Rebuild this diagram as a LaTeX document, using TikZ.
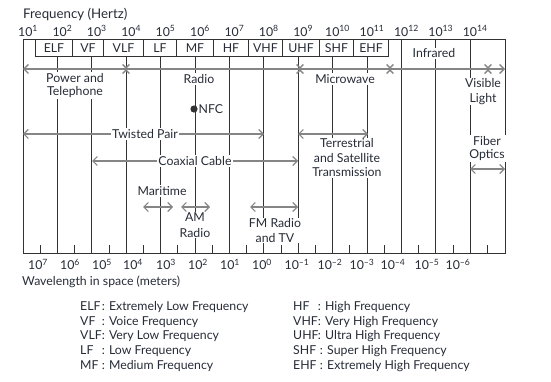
\documentclass[tikz,border=0pt]{standalone}
\usepackage{fontspec}
\usepackage{calc}
\setmainfont{Lato}
\usetikzlibrary{arrows.meta}
\definecolor{txt}{HTML}{262B36}
\definecolor{vline}{HTML}{333333}
\definecolor{arr}{HTML}{858585}
\newcommand{\abl}[1]{\makebox[\widthof{VLF}][l]{#1}}
\newcommand{\abr}[1]{\makebox[\widthof{VHF}][l]{#1}}
\begin{document}
\begin{tikzpicture}[x=1pt,y=-1pt,
  font=\fontsize{12.3}{14.5}\selectfont, text=txt,
  vl/.style={draw=vline, line width=1pt},
  rng/.style={draw=arr, line width=1.1pt, {Straight Barb[length=4.5pt,width=9pt]}-{Straight Barb[length=4.5pt,width=9pt]}},
  band/.style={draw=arr, line width=1.4pt, {Straight Barb[length=4.5pt,width=9pt]}-{Straight Barb[length=4.5pt,width=9pt]}},
  lbl/.style={fill=white, inner sep=1pt, align=center},
  cell/.style={draw=vline, line width=1pt, minimum height=17pt, inner sep=0pt, anchor=west},
  leg/.style={anchor=west, inner sep=0pt},
]
\useasboundingbox (0,0) rectangle (551,382);

% frame
\coordinate (tl) at (23,40);
\coordinate (tr) at (505,40);
\coordinate (bl) at (23,253);
\coordinate (br) at (505,253);
\draw[vl] (tl) -- (tr) -- (br) -- (bl) -- cycle;

% decade lines
\foreach \k in {1,...,10}{
  \coordinate (d\k) at ({23+34.4*\k},57);
  \coordinate (e\k) at ({23+34.4*\k},253);
  \draw[vl] (d\k) -- (e\k);
}
\foreach \k in {11,12,13}{
  \coordinate (d\k) at ({23+34.4*\k},40);
  \coordinate (e\k) at ({23+34.4*\k},253);
  \draw[vl] (d\k) -- (e\k);
}
% bottom ticks
\foreach \k in {0,...,13}{
  \coordinate (t\k) at ({23+34.4*(\k+0.5)},245);
  \coordinate (u\k) at ({23+34.4*(\k+0.5)},253);
  \draw[vl] (t\k) -- (u\k);
}

% band cells
\node[cell, minimum width=37pt] (elf) at (35,48.5) {ELF};
\node[cell, minimum width=31pt] (vf)  at (72,48.5) {VF};
\node[cell, minimum width=40pt] (vlf) at (103,48.5) {VLF};
\node[cell, minimum width=33pt] (lf)  at (143,48.5) {LF};
\node[cell, minimum width=37pt] (mf)  at (176,48.5) {MF};
\node[cell, minimum width=35pt] (hf)  at (213,48.5) {HF};
\node[cell, minimum width=34pt] (vhf) at (248,48.5) {VHF};
\node[cell, minimum width=37pt] (uhf) at (282,48.5) {UHF};
\node[cell, minimum width=34pt] (shf) at (319,48.5) {SHF};
\node[cell, minimum width=35pt] (ehf) at (353,48.5) {EHF};

% frequency labels
\node (fh) at (23,14) [anchor=west, inner sep=0pt, font=\fontsize{13.3}{15}\selectfont] {Frequency (Hertz)};
\foreach \n in {1,...,14}{
  \node[inner sep=0pt] (f\n) at ({23+34.4*(\n-1)+5},31) {10\textsuperscript{\n}};
}

% wavelength labels
\foreach \e/\x [count=\i] in {7/38,6/70,5/102,4/133,3/166,2/198,1/230,0/262,\textendash1/297,\textendash2/330,\textendash3/362,\textendash4/393,\textendash5/427,\textendash6/458}{
  \node[inner sep=0pt] (w\i) at (\x,264.5) {10\textsuperscript{\e}};
}
\node (wh) at (22,282) [anchor=west, inner sep=0pt] {Wavelength in space (meters)};

% spectrum band arrows
\coordinate (b0) at (23,69);
\coordinate (b1r) at (128.2,69);
\coordinate (b1l) at (123.8,69);
\coordinate (b2r) at (302.2,69);
\coordinate (b2l) at (297.8,69);
\coordinate (b3r) at (392.2,69);
\coordinate (b3l) at (387.8,69);
\coordinate (b4r) at (490.2,69);
\coordinate (b4l) at (485.8,69);
\coordinate (b5) at (505,69);
\draw[band] (b0) -- (b1r);
\draw[band] (b1l) -- (b2r);
\draw[band] (b2l) -- (b3r);
\draw[band] (b3l) -- (b4r);
\draw[band] (b4l) -- (b5);

% media arrows
\coordinate (tp1) at (23,134);   \coordinate (tp2) at (264,134);
\coordinate (cx1) at (92,161);   \coordinate (cx2) at (298,161);
\coordinate (ts1) at (298,134);  \coordinate (ts2) at (368,134);
\coordinate (fo1) at (470,169);  \coordinate (fo2) at (505,169);
\coordinate (ma1) at (143,207);  \coordinate (ma2) at (173,207);
\coordinate (am1) at (181,207);  \coordinate (am2) at (210,207);
\coordinate (fm1) at (250,207);  \coordinate (fm2) at (298,207);
\draw[rng] (tp1) -- (tp2);
\draw[rng] (cx1) -- (cx2);
\draw[rng] (ts1) -- (ts2);
\draw[rng] (fo1) -- (fo2);
\draw[rng] (ma1) -- (ma2);
\draw[rng] (am1) -- (am2);
\draw[rng] (fm1) -- (fm2);

% labels
\node[lbl, font=\fontsize{12.3}{13.5}\selectfont] (pt) at (75,85.5) {Power and\\Telephone};
\node[lbl] (radio) at (199,79) {Radio};
\node[lbl] (micro) at (345,79) {Microwave};
\node[lbl] (ir) at (434,53.5) {Infrared};
\node[lbl] (vis) at (483,91.5) {Visible\\Light};
\node[lbl] (twp) at (145,134) {Twisted Pair};
\node[lbl] (cox) at (195,161) {Coaxial Cable};
\node[lbl] (tst) at (347,158) {Terrestrial\\and Satellite\\Transmission};
\node[lbl, font=\fontsize{12.3}{13.5}\selectfont] (fib) at (487,148.5) {Fiber\\Optics};
\node[lbl] (mar) at (162,191) {Maritime};
\node[lbl, font=\fontsize{12.3}{16}\selectfont] (amr) at (195,225) {AM\\Radio};
\node[lbl] (fmr) at (275,230.5) {FM Radio\\and TV};

% NFC
\fill[vline] (194,109) circle (3.6pt) coordinate (nfcdot);
\node[anchor=west, inner sep=0pt] (nfc) at (198.5,109) {NFC};

% legend
\node[leg] (l1) at (80,307) {\abl{ELF}: Extremely Low Frequency};
\node[leg] (l2) at (80,322) {\abl{VF}: Voice Frequency};
\node[leg] (l3) at (80,336.5) {\abl{VLF}: Very Low Frequency};
\node[leg] (l4) at (80,351) {\abl{LF}: Low Frequency};
\node[leg] (l5) at (80,366) {\abl{MF}: Medium Frequency};
\node[leg] (r1) at (293,307) {\abr{HF}: High Frequency};
\node[leg] (r2) at (293,322) {\abr{VHF}: Very High Frequency};
\node[leg] (r3) at (293,336.5) {\abr{UHF}: Ultra High Frequency};
\node[leg] (r4) at (293,351) {\abr{SHF}\,: Super High Frequency};
\node[leg] (r5) at (293,366) {\abr{EHF}\,: Extremely High Frequency};
\end{tikzpicture}
\end{document}
